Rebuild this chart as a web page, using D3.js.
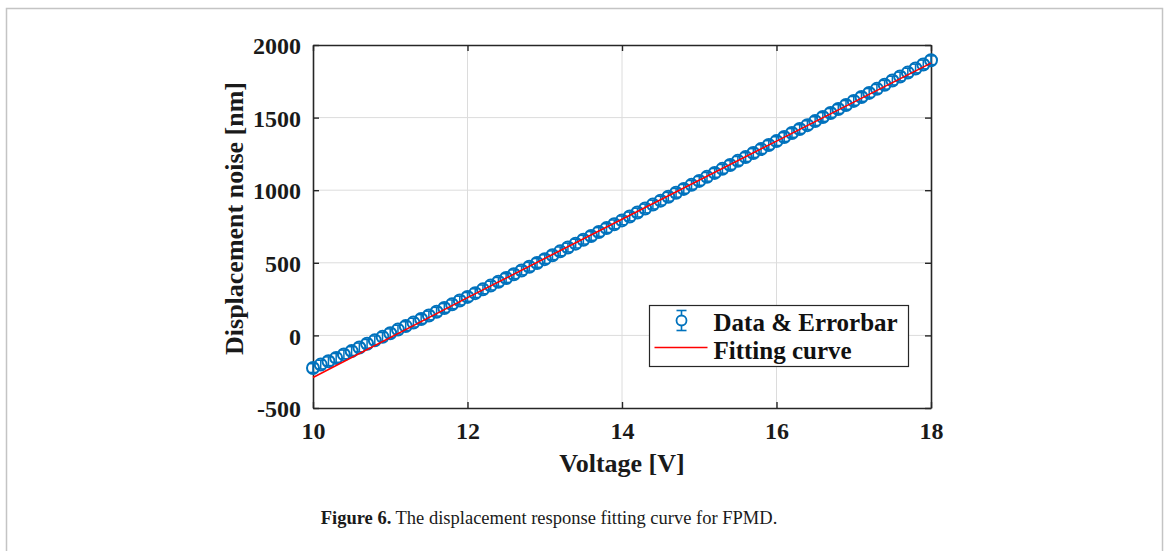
<!DOCTYPE html>
<html>
<head>
<meta charset="utf-8">
<script src="https://cdn.jsdelivr.net/npm/d3@7"></script>
<style>
  body { margin: 0; background: #fff; }
  svg { display: block; }
</style>
</head>
<body>
<div id="chart"></div>
<script>
// voltage steps [V]
const voltage = [
  10.0, 10.1, 10.2, 10.3, 10.4, 10.5, 10.6, 10.7, 10.8, 10.9,
  11.0, 11.1, 11.2, 11.3, 11.4, 11.5, 11.6, 11.7, 11.8, 11.9,
  12.0, 12.1, 12.2, 12.3, 12.4, 12.5, 12.6, 12.7, 12.8, 12.9,
  13.0, 13.1, 13.2, 13.3, 13.4, 13.5, 13.6, 13.7, 13.8, 13.9,
  14.0, 14.1, 14.2, 14.3, 14.4, 14.5, 14.6, 14.7, 14.8, 14.9,
  15.0, 15.1, 15.2, 15.3, 15.4, 15.5, 15.6, 15.7, 15.8, 15.9,
  16.0, 16.1, 16.2, 16.3, 16.4, 16.5, 16.6, 16.7, 16.8, 16.9,
  17.0, 17.1, 17.2, 17.3, 17.4, 17.5, 17.6, 17.7, 17.8, 17.9,
  18.0
];
// measured displacement [nm]
const displacement = [
  -225, -201, -178, -155, -131, -108, -83, -58, -34, -10,
  15, 40, 64, 88, 113, 137, 163, 189, 214, 240,
  265, 291, 317, 343, 369, 395, 421, 447, 473, 499,
  525, 552, 579, 605, 632, 659, 685, 712, 739, 765,
  792, 819, 846, 874, 901, 928, 955, 982, 1009, 1037,
  1064, 1092, 1119, 1147, 1174, 1202, 1228, 1256, 1283, 1311,
  1338, 1366, 1394, 1421, 1448, 1476, 1504, 1532, 1559, 1587,
  1615, 1642, 1670, 1698, 1726, 1755, 1783, 1810, 1838, 1866,
  1895
];
// error bar half length [nm]
const errorNm = 30;

// fitting curve
const fitVoltage = [10, 12, 14, 16, 18];
const fitDisplacement = [-290, 260, 800, 1338, 1875];

const xTicks = [10, 12, 14, 16, 18];
const yTicks = [-500, 0, 500, 1000, 1500, 2000];

const W = 1168, H = 551;
const margin = { top: 45, right: 237, bottom: 143, left: 313 },
    width = W - margin.left - margin.right,
    height = H - margin.top - margin.bottom;

const blue = "#0072BD", red = "#FF0000", axisCol = "#262626";
const font = "'Liberation Serif', 'Times New Roman', serif";
const fmt = d => String(d); // plain hyphen minus, no thousands separator

const root = d3.select("#chart").append("svg")
    .attr("width", W)
    .attr("height", H);

// page frame
root.append("rect")
    .attr("x", 6.5).attr("y", 8.5)
    .attr("width", 1156).attr("height", 600)
    .attr("fill", "none")
    .attr("stroke", "#c4c4c4")
    .attr("stroke-width", 1.5);

const svg = root.append("g")
    .attr("transform", "translate(" + margin.left + "," + margin.top + ")");

const x = d3.scaleLinear().domain([10, 18]).range([0, width]);
const y = d3.scaleLinear().domain([-500, 2000]).range([height, 0]);

// grid
svg.append("g")
    .selectAll("line")
    .data(xTicks.slice(1, -1))
    .enter().append("line")
    .attr("x1", d => x(d)).attr("x2", d => x(d))
    .attr("y1", 0).attr("y2", height)
    .attr("stroke", "#dcdcdc").attr("stroke-width", 1);
svg.append("g")
    .selectAll("line")
    .data(yTicks.slice(1, -1))
    .enter().append("line")
    .attr("y1", d => y(d)).attr("y2", d => y(d))
    .attr("x1", 0).attr("x2", width)
    .attr("stroke", "#dcdcdc").attr("stroke-width", 1);

// axes, ticks inward on all sides
const tickLen = 6;
const xAxis = svg.append("g")
    .attr("transform", "translate(0," + height + ")")
    .call(d3.axisBottom(x).tickValues(xTicks).tickFormat(fmt).tickSizeInner(-tickLen).tickSizeOuter(0).tickPadding(14));
const yAxis = svg.append("g")
    .call(d3.axisLeft(y).tickValues(yTicks).tickFormat(fmt).tickSizeInner(-tickLen).tickSizeOuter(0).tickPadding(12));
svg.append("g")
    .call(d3.axisTop(x).tickValues(xTicks).tickSizeInner(-tickLen).tickSizeOuter(0).tickFormat(""));
svg.append("g")
    .attr("transform", "translate(" + width + ",0)")
    .call(d3.axisRight(y).tickValues(yTicks).tickSizeInner(-tickLen).tickSizeOuter(0).tickFormat(""));

svg.selectAll(".domain").attr("stroke", axisCol).attr("stroke-width", 1.6);
svg.selectAll(".tick line").attr("stroke", axisCol).attr("stroke-width", 1.4);
svg.selectAll(".tick text")
    .attr("fill", "#1a1a1a")
    .style("font-family", font)
    .style("font-weight", "bold")
    .style("font-size", "24px");
yAxis.selectAll(".tick text").attr("dy", "0.36em");

// data with error bars
const pts = svg.append("g").selectAll("g")
    .data(displacement)
    .enter().append("g")
    .attr("transform", (d, i) => "translate(" + x(voltage[i]) + "," + y(d) + ")");
pts.append("line")
    .attr("x1", 0).attr("x2", 0)
    .attr("y1", d => y(d + errorNm) - y(d))
    .attr("y2", d => y(d - errorNm) - y(d))
    .attr("stroke", blue).attr("stroke-width", 1.5);
pts.append("line")
    .attr("x1", -3.5).attr("x2", 3.5)
    .attr("y1", d => y(d + errorNm) - y(d)).attr("y2", d => y(d + errorNm) - y(d))
    .attr("stroke", blue).attr("stroke-width", 1.5);
pts.append("line")
    .attr("x1", -3.5).attr("x2", 3.5)
    .attr("y1", d => y(d - errorNm) - y(d)).attr("y2", d => y(d - errorNm) - y(d))
    .attr("stroke", blue).attr("stroke-width", 1.5);
pts.append("circle")
    .attr("r", 6)
    .attr("fill", "none")
    .attr("stroke", blue)
    .attr("stroke-width", 2);

// fitting curve (drawn over the markers)
const line = d3.line()
    .x((d, i) => x(fitVoltage[i]))
    .y(d => y(d));
svg.append("path")
    .datum(fitDisplacement)
    .attr("d", line)
    .attr("fill", "none")
    .attr("stroke", red)
    .attr("stroke-width", 1.6);

// legend
const lg = root.append("g").attr("transform", "translate(649.5,305.5)");
lg.append("rect")
    .attr("width", 259).attr("height", 61)
    .attr("fill", "#fff")
    .attr("stroke", axisCol).attr("stroke-width", 1.2);
const sym = lg.append("g").attr("transform", "translate(32,15)");
sym.append("line").attr("x1", 0).attr("x2", 0).attr("y1", -10).attr("y2", 10)
    .attr("stroke", blue).attr("stroke-width", 1.6);
sym.append("line").attr("x1", -5).attr("x2", 5).attr("y1", -10).attr("y2", -10)
    .attr("stroke", blue).attr("stroke-width", 1.6);
sym.append("line").attr("x1", -5).attr("x2", 5).attr("y1", 10).attr("y2", 10)
    .attr("stroke", blue).attr("stroke-width", 1.6);
sym.append("circle").attr("r", 5).attr("fill", "#fff")
    .attr("stroke", blue).attr("stroke-width", 1.8);
lg.append("line")
    .attr("x1", 5).attr("x2", 58).attr("y1", 42).attr("y2", 42)
    .attr("stroke", red).attr("stroke-width", 1.6);
lg.selectAll("text")
    .data(["Data & Errorbar", "Fitting curve"])
    .enter().append("text")
    .attr("x", 64)
    .attr("y", (d, i) => 25 + i * 28)
    .attr("fill", "#111")
    .style("font-family", font)
    .style("font-weight", "bold")
    .style("font-size", "25px")
    .text(d => d);

// axis titles
svg.append("text")
    .attr("x", width / 2)
    .attr("y", height + 64)
    .attr("fill", "#1a1a1a")
    .style("font-family", font)
    .style("font-weight", "bold")
    .style("font-size", "26px")
    .style("text-anchor", "middle")
    .text("Voltage [V]");
svg.append("text")
    .attr("transform", "translate(-70," + (height / 2 - 8) + ") rotate(-90)")
    .attr("fill", "#1a1a1a")
    .style("font-family", font)
    .style("font-weight", "bold")
    .style("font-size", "26px")
    .style("text-anchor", "middle")
    .text("Displacement noise [nm]");

// caption
const cap = root.append("text")
    .attr("x", 549)
    .attr("y", 524)
    .attr("fill", "#1a1a1a")
    .style("font-family", font)
    .style("font-size", "18.5px")
    .style("text-anchor", "middle");
cap.append("tspan").style("font-weight", "bold").text("Figure 6.");
cap.append("tspan").text(" The displacement response fitting curve for FPMD.");
</script>
</body>
</html>
